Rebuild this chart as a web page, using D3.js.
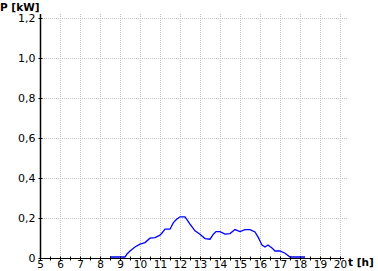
<!DOCTYPE html>
<html><head><meta charset="utf-8">
<script src="https://cdn.jsdelivr.net/npm/d3@7"></script>
<style>body{margin:0;background:#fff}svg{display:block}</style>
</head><body>
<script>
const hours = [8.5, 9.25, 9.35, 9.5, 9.75, 10, 10.25, 10.5, 10.75, 11, 11.1, 11.25, 11.5, 11.67, 11.83, 12, 12.25, 12.33, 12.5, 12.75, 13, 13.25, 13.5, 13.67, 13.8, 14, 14.25, 14.5, 14.75, 15, 15.25, 15.5, 15.75, 15.92, 16.0, 16.1, 16.25, 16.4, 16.6, 16.75, 17, 17.25, 17.5, 18.25];
const power = [0.005, 0.005, 0.02, 0.035, 0.055, 0.069, 0.077, 0.099, 0.102, 0.114, 0.125, 0.144, 0.144, 0.177, 0.194, 0.206, 0.206, 0.194, 0.169, 0.136, 0.119, 0.097, 0.094, 0.119, 0.132, 0.132, 0.119, 0.122, 0.142, 0.132, 0.142, 0.142, 0.130, 0.102, 0.085, 0.065, 0.055, 0.065, 0.05, 0.035, 0.035, 0.024, 0.005, 0.005];
const xTicks = [5,6,7,8,9,10,11,12,13,14,15,16,17,18,19,20];
const yTicks = [0,0.2,0.4,0.6,0.8,1.0,1.2];
const yLabels = ["0","0,2","0,4","0,6","0,8","1,0","1,2"];

const W=378,H=271;
const svg=d3.select("body").append("svg").attr("width",W).attr("height",H);
const x=d3.scaleLinear().domain([5,20.35]).range([40,347]);
const y=d3.scaleLinear().domain([0,1.22]).range([258,14]);
const font="'DejaVu Sans', Verdana, sans-serif";

// grid
svg.append("g").selectAll("line").data(xTicks.slice(1)).join("line")
  .attr("x1",d=>x(d)+0.5).attr("x2",d=>x(d)+0.5).attr("y1",y(1.22)).attr("y2",y(0))
  .attr("stroke","#c4c4c4").attr("stroke-dasharray","1,1");
svg.append("g").selectAll("line").data(yTicks.slice(1)).join("line")
  .attr("y1",d=>y(d)+0.5).attr("y2",d=>y(d)+0.5).attr("x1",x(5)).attr("x2",347)
  .attr("stroke","#c4c4c4").attr("stroke-dasharray","1,1");

// data line
const pts=hours.map((h,i)=>[h,power[i]]);
svg.append("path").datum(pts)
  .attr("d",d3.line().x(d=>x(d[0])).y(d=>y(d[1])))
  .attr("fill","none").attr("stroke","#0000ff").attr("stroke-width",1.3);

// axes
const ax=svg.append("g").attr("transform",`translate(0,${y(0)+0.5})`)
  .call(d3.axisBottom(x).tickValues(xTicks).tickSize(0).tickFormat(d3.format("d")));
ax.select(".domain").attr("stroke","#000").attr("d",`M${x(5)},0H344`);
ax.selectAll("text").attr("font-family",font).attr("font-size",10.5).attr("fill","#000").attr("dy","0.71em").attr("y",2.5);
const minor=d3.range(5,20.01,0.5);
ax.append("g").selectAll("line").data(minor).join("line")
  .attr("x1",d=>x(d)+0.5).attr("x2",d=>x(d)+0.5).attr("y1",-2).attr("y2",2).attr("stroke","#000");

const ay=svg.append("g").attr("transform",`translate(${x(5)+0.5},0)`)
  .call(d3.axisLeft(y).tickValues(yTicks).tickSize(0).tickFormat((d,i)=>yLabels[i]));
ay.select(".domain").attr("stroke","#000").attr("stroke-width",1.5).attr("d",`M0,${y(1.22)}V${y(0)}`);
ay.selectAll("text").attr("font-family",font).attr("font-size",11).attr("fill","#000").attr("x",-5);
ay.append("g").selectAll("line").data(yTicks).join("line")
  .attr("y1",d=>y(d)+0.5).attr("y2",d=>y(d)+0.5).attr("x1",-2).attr("x2",2).attr("stroke","#000");

svg.append("text").attr("x",0).attr("y",11).text("P [kW]")
  .attr("font-family",font).attr("font-size",10.5).attr("font-weight","bold");
svg.append("text").attr("x",348).attr("y",266).text("t [h]")
  .attr("font-family",font).attr("font-size",10.5).attr("font-weight","bold");
</script>
</body></html>
